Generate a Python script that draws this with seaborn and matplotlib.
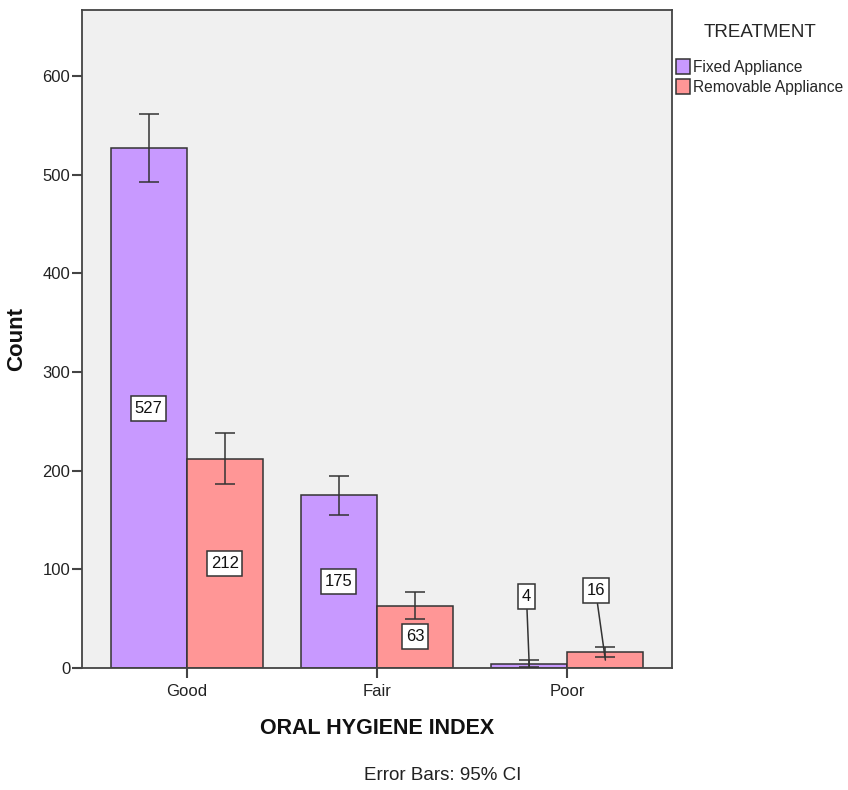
import matplotlib
matplotlib.use("Agg")
import matplotlib.pyplot as plt
from matplotlib.path import Path
import seaborn as sns
import pandas as pd

# Counts by oral hygiene index and treatment group
categories = ["Good", "Fair", "Poor"]
treatments = ["Fixed Appliance", "Removable Appliance"]
fixed_counts = [527, 175, 4]
removable_counts = [212, 63, 16]
# 95% confidence interval bounds for each count
fixed_ci_low = [493, 155, 1]
fixed_ci_high = [562, 195, 8]
removable_ci_low = [187, 50, 11]
removable_ci_high = [238, 77, 21]
y_ticks = [0, 100, 200, 300, 400, 500, 600]

df = pd.DataFrame({
    "index": categories * 2,
    "treatment": [treatments[0]] * 3 + [treatments[1]] * 3,
    "count": fixed_counts + removable_counts,
    "lo": fixed_ci_low + removable_ci_low,
    "hi": fixed_ci_high + removable_ci_high,
})

sns.set_theme(style="white")
plt.rcParams["font.family"] = ["Liberation Sans", "DejaVu Sans"]

palette = {"Fixed Appliance": "#C899FF", "Removable Appliance": "#FF9696"}
edge = "#333333"


def label_box(x0, y0, width, height, mutation_size):
    """Rectangular box with separate horizontal and vertical padding."""
    px = 0.22 * mutation_size
    py = 0.30 * mutation_size
    x0, y0 = x0 - px, y0 - py
    x1, y1 = x0 + width + 2 * px, y0 + height + 2 * py
    return Path([(x0, y0), (x1, y0), (x1, y1), (x0, y1), (x0, y0)],
                closed=True)


fig = plt.figure(figsize=(8.48, 7.9), dpi=100)
ax = fig.add_axes([82 / 848, 1 - 668 / 790, 590 / 848, 658 / 790])
ax.set_facecolor("#F0F0F0")

sns.barplot(data=df, x="index", y="count", hue="treatment", order=categories,
            hue_order=treatments, palette=palette, errorbar=None, width=0.8,
            saturation=1, edgecolor=edge, linewidth=1.1, ax=ax)

# error bars and value labels, placed at each bar's centre
bars = ax.patches[:6]
for bar, (_, row) in zip(bars, df.iterrows()):
    xc = bar.get_x() + bar.get_width() / 2
    v = row["count"]
    ax.errorbar([xc], [v], yerr=[[v - row["lo"]], [row["hi"] - v]],
                fmt="none", ecolor="#333333", elinewidth=1.1, capsize=7,
                capthick=1.1, zorder=4)
    box = dict(boxstyle=label_box, fc="white", ec="#333333", lw=1.1)
    if v >= 50:
        ax.text(xc, v / 2, f"{v}", ha="center", va="center", fontsize=12,
                color="#111111", bbox=box, zorder=5)
    else:
        dx = -2 if row["treatment"] == treatments[0] else -7
        ax.annotate(f"{v}", xy=(xc, v / 2), xytext=(dx, 50),
                    textcoords="offset points", ha="center", va="center",
                    fontsize=12, color="#111111", bbox=box, zorder=5,
                    arrowprops=dict(arrowstyle="-", color="#333333", lw=1.1,
                                    shrinkA=0, shrinkB=0))

ax.set_xlim(-0.55, 2.55)
ax.set_ylim(0, 667)
ax.set_yticks(y_ticks)
ax.set_yticklabels([str(t) for t in y_ticks])

for s in ax.spines.values():
    s.set_color("#444444")
    s.set_linewidth(1.3)

ax.tick_params(axis="y", which="both", length=7.5, width=1.5, color="#444444",
               labelsize=12, labelcolor="#222222", left=True, direction="out", pad=1)
ax.tick_params(axis="x", which="both", length=7.5, width=1.5, color="#444444",
               labelsize=12, labelcolor="#222222", bottom=True, direction="out", pad=4)

ax.set_xlabel("ORAL HYGIENE INDEX", fontsize=15.5, fontweight="bold", labelpad=14,
              color="#111111")
ax.set_ylabel("Count", fontsize=16, fontweight="bold", color="#111111")
ax.yaxis.set_label_coords(-0.093, 0.5)

leg = ax.legend(title="TREATMENT", loc="upper left",
                bbox_to_anchor=(1.0034, 0.981),
                frameon=False, fontsize=11.2, title_fontsize=13.5,
                handlelength=0.95, handleheight=1.05, labelspacing=0.3,
                handletextpad=0.2, borderpad=0.1, borderaxespad=0.0)
for h in leg.legend_handles:
    h.set_edgecolor(edge)
    h.set_linewidth(1.1)
leg._legend_box.sep = 13

fig.text(443 / 848, 1 - 775 / 790, "Error Bars: 95% CI", ha="center",
         va="center", fontsize=13.5, color="#222222")

fig.savefig("out.png", dpi=100, facecolor="white")
